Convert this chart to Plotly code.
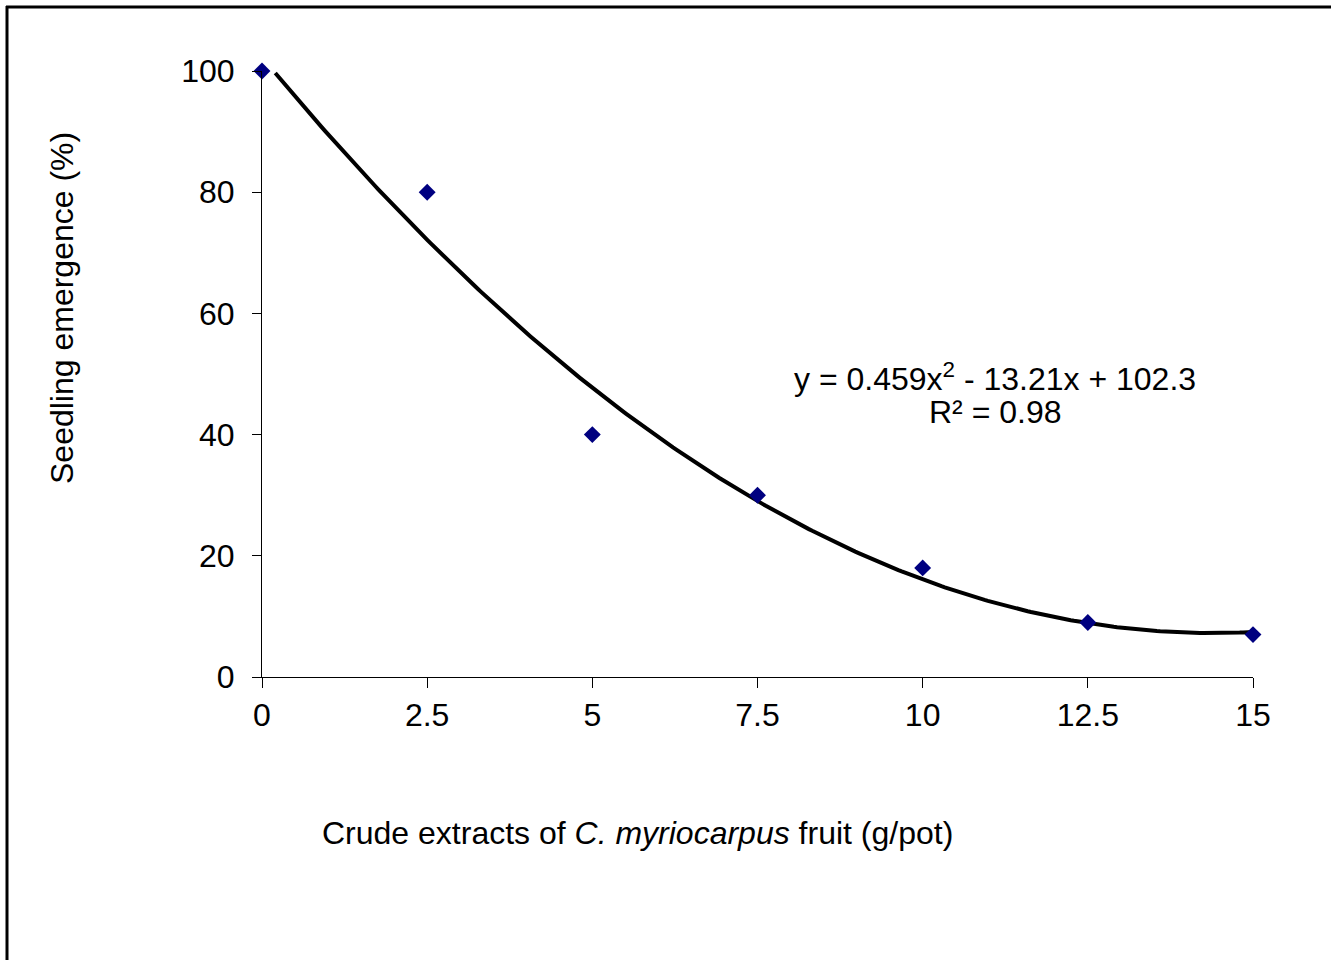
import numpy as np
import plotly.graph_objects as go

# Data
extract_g_per_pot = [0, 2.5, 5, 7.5, 10, 12.5, 15]
emergence_pct = [100, 80, 40, 30, 18, 9, 7]

# Polynomial trendline coefficients (as printed on the chart): a*x^2 + b*x + c
trend_coeffs = [0.459, -13.21, 102.3]
r_squared = 0.98

x_ticks = [0, 2.5, 5, 7.5, 10, 12.5, 15]
x_tick_labels = ["0", "2.5", "5", "7.5", "10", "12.5", "15"]
y_ticks = [0, 20, 40, 60, 80, 100]

W, H = 1331, 960
L, R, T, B = 262, 78, 71, 283
pw, ph = W - L - R, H - T - B

def px_x(p):
    return (p - L) / pw

def px_y(p):
    return (H - B - p) / ph

FONT = "Liberation Sans, Arial, sans-serif"
FS = 32

xs = np.linspace(0, 15, 300)
ys = np.polyval(trend_coeffs, xs)
mask = ys <= 100
xs, ys = xs[mask], ys[mask]

fig = go.Figure()
fig.add_trace(go.Scatter(x=xs, y=ys, mode="lines",
                         line=dict(color="black", width=4),
                         hoverinfo="skip", showlegend=False, cliponaxis=False))
fig.add_trace(go.Scatter(x=extract_g_per_pot, y=emergence_pct, mode="markers",
                         marker=dict(symbol="diamond", color="#000080", size=13,
                                     line=dict(width=0)),
                         showlegend=False, cliponaxis=False))

fig.update_layout(
    width=W, height=H,
    margin=dict(l=L, r=R, t=T, b=B, pad=0),
    paper_bgcolor="white", plot_bgcolor="white",
    font=dict(family=FONT, size=FS, color="black"),
    xaxis=dict(range=[0, 15], tickvals=x_ticks, ticktext=x_tick_labels,
               showgrid=False, zeroline=False, showline=True, linecolor="black",
               linewidth=1, ticks="outside", ticklen=10, tickcolor="black",
               tickfont=dict(family=FONT, size=FS, color="black")),
    yaxis=dict(range=[0, 100], tickvals=y_ticks,
               showgrid=False, zeroline=False, showline=True, linecolor="black",
               linewidth=1, ticks="outside", ticklen=9, tickcolor="black",
               ticklabelstandoff=11,
               tickfont=dict(family=FONT, size=FS, color="black")),
)

# Axis titles as annotations
fig.add_annotation(text="Crude extracts of <i>C. myriocarpus</i> fruit (g/pot)",
                   xref="paper", yref="paper", x=px_x(637), y=px_y(833),
                   xanchor="center", yanchor="middle", showarrow=False,
                   font=dict(family=FONT, size=FS, color="black"))
fig.add_annotation(text="Seedling emergence (%)", textangle=-90,
                   xref="paper", yref="paper", x=px_x(62), y=px_y(308),
                   xanchor="center", yanchor="middle", showarrow=False,
                   font=dict(family=FONT, size=FS, color="black"))

# Trendline equation
a, b, c = trend_coeffs
fig.add_annotation(text=f"y = {a}x<sup>2</sup> - {abs(b)}x + {c}",
                   xref="paper", yref="paper", x=px_x(995), y=px_y(377),
                   xanchor="center", yanchor="middle", showarrow=False,
                   font=dict(family=FONT, size=FS, color="black"))
fig.add_annotation(text=f"R² = {r_squared}",
                   xref="paper", yref="paper", x=px_x(995), y=px_y(412),
                   xanchor="center", yanchor="middle", showarrow=False,
                   font=dict(family=FONT, size=FS, color="black"))

# Frame (left and top edges)
fig.add_shape(type="line", xref="paper", yref="paper",
              x0=px_x(7), x1=px_x(7), y0=px_y(6), y1=px_y(962),
              line=dict(color="black", width=3))
fig.add_shape(type="line", xref="paper", yref="paper",
              x0=px_x(6), x1=px_x(1333), y0=px_y(7), y1=px_y(7),
              line=dict(color="black", width=3))

fig.write_html("out.html")
